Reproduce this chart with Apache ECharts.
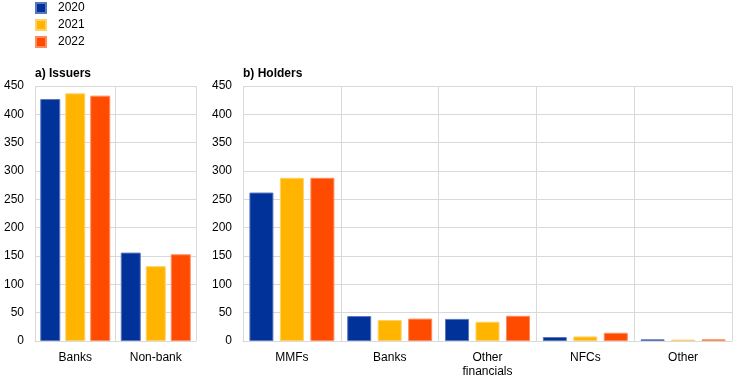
<!DOCTYPE html>
<html><head><meta charset="utf-8">
<script src="https://cdn.jsdelivr.net/npm/echarts@6/dist/echarts.min.js"></script>
<style>html,body{margin:0;padding:0;background:#fff}#c{width:744px;height:381px}</style>
</head><body><div id="c"></div>
<script>
const years = ['2020', '2021', '2022'];
const colors = ['#003299', '#ffb400', '#ff4b00'];
const issuerCats = ['Banks', 'Non-bank'];
const holderCats = ['MMFs', 'Banks', 'Other\nfinancials', 'NFCs', 'Other'];
const issuers2020 = [427, 156];
const issuers2021 = [437, 132];
const issuers2022 = [433, 153];
const holders2020 = [262, 44, 39, 7, 3];
const holders2021 = [288, 37, 34, 8, 2.5];
const holders2022 = [288, 39.5, 44.5, 14.5, 3];
const yTicks = {min: 0, max: 450, interval: 50};
const panelTitles = ['a) Issuers', 'b) Holders'];

const font = 'Liberation Sans, Arial, sans-serif';
const chart = echarts.init(document.getElementById('c'), null, {renderer: 'canvas'});
const gridLine = {show: true, lineStyle: {color: '#d9d9d9', width: 1}};
function xAx(i, cats) {
  return {type: 'category', gridIndex: i, data: cats,
    axisLine: {show: true, lineStyle: {color: '#d9d9d9'}},
    axisTick: {show: false},
    splitLine: gridLine,
    axisLabel: {color: '#000', fontFamily: font, fontSize: 12, margin: 10, lineHeight: 14, interval: 0}};
}
function yAx(i) {
  return {type: 'value', gridIndex: i, min: yTicks.min, max: yTicks.max, interval: yTicks.interval,
    axisLine: {show: false}, axisTick: {show: false},
    splitLine: gridLine,
    axisLabel: {color: '#000', fontFamily: font, fontSize: 12, margin: 11}};
}
const issuerData = [issuers2020, issuers2021, issuers2022];
const holderData = [holders2020, holders2021, holders2022];
const borderCols = ['#5b77bf', '#ffd066', '#ff8a5c'];
const series = [];
years.forEach((y, k) => {
  series.push({name: y, type: 'bar', xAxisIndex: 0, yAxisIndex: 0, data: issuerData[k],
    barWidth: 20, barGap: '25%',
    itemStyle: {color: colors[k], borderColor: borderCols[k], borderWidth: 1}});
});
years.forEach((y, k) => {
  series.push({name: y, type: 'bar', xAxisIndex: 1, yAxisIndex: 1, data: holderData[k],
    barWidth: 24, barGap: '27%',
    itemStyle: {color: colors[k], borderColor: borderCols[k], borderWidth: 1}});
});
chart.setOption({
  animation: false,
  color: colors,
  textStyle: {fontFamily: font},
  title: [
    {text: panelTitles[0], left: 30, top: 63, textStyle: {fontSize: 12, fontWeight: 'bold', color: '#000', fontFamily: font}},
    {text: panelTitles[1], left: 238, top: 63, textStyle: {fontSize: 12, fontWeight: 'bold', color: '#000', fontFamily: font}}
  ],
  legend: {orient: 'vertical', left: 35, top: 1, padding: 0, itemWidth: 10, itemHeight: 10, itemGap: 3,
    icon: 'rect', data: years,
    textStyle: {fontSize: 12, color: '#000', fontFamily: font, padding: [0, 0, 0, 7], lineHeight: 14}},
  grid: [
    {left: 35, right: 548, top: 86, bottom: 40},
    {left: 243, right: 12, top: 86, bottom: 40}
  ],
  xAxis: [xAx(0, issuerCats), xAx(1, holderCats)],
  yAxis: [yAx(0), yAx(1)],
  series: series
});
</script></body></html>
